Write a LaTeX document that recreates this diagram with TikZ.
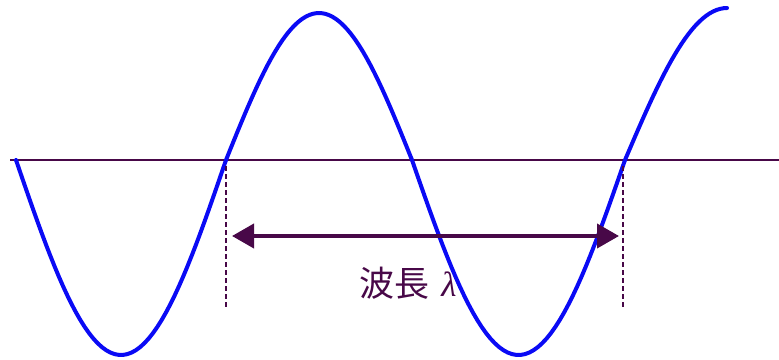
\documentclass[tikz,border=0pt]{standalone}
\usepackage{fontspec}
\newfontfamily\cjk{Noto Sans CJK JP}
\newfontfamily\grk{Liberation Serif}
\usetikzlibrary{arrows.meta}
\definecolor{wavepurple}{RGB}{72,8,72}
\definecolor{waveblue}{RGB}{10,10,245}
\begin{document}
\begin{tikzpicture}[x=1pt,y=-1pt]
\tikzstyle{guide}=[draw=wavepurple, line width=1.5pt, dash pattern=on 5pt off 3pt]
\tikzstyle{span}=[draw=wavepurple, line width=4pt, {Triangle[length=22pt,width=24pt]}-{Triangle[length=22pt,width=24pt]}]
\tikzstyle{wave}=[draw=waveblue, line width=4pt, line join=round, line cap=round]
    \useasboundingbox (0,0) rectangle (779,359);

    \coordinate (axisL) at (10,160);
    \coordinate (axisR) at (779,160);
    \coordinate (top1) at (226,166);
    \coordinate (bot1) at (226,308);
    \coordinate (top2) at (623,166);
    \coordinate (bot2) at (623,308);
    \coordinate (spanL) at (232,236);
    \coordinate (spanR) at (619,236);
    \node[text=wavepurple, font=\fontsize{35}{40}\selectfont] (lbl) at (408,283) {\cjk 波長\hspace{12pt}{\grk\itshape λ}};

    \draw[wavepurple, line width=2pt] (axisL) -- (axisR);

    \draw[wave] plot[domain=16:226, samples=50] (\x, {160+195*sin((\x-16)/210*180)})
        -- plot[domain=226:412, samples=50] (\x, {160-147*sin((\x-226)/186*180)})
        -- plot[domain=412:625, samples=50] (\x, {160+195*sin((\x-412)/213*180)})
        -- plot[domain=625:727, samples=30] (\x, {160-152*sin((\x-625)/204*180)});

    \draw[guide] (top1) -- (bot1);
    \draw[guide] (top2) -- (bot2);

    \draw[span] (spanL) -- (spanR);

\end{tikzpicture}
\end{document}
